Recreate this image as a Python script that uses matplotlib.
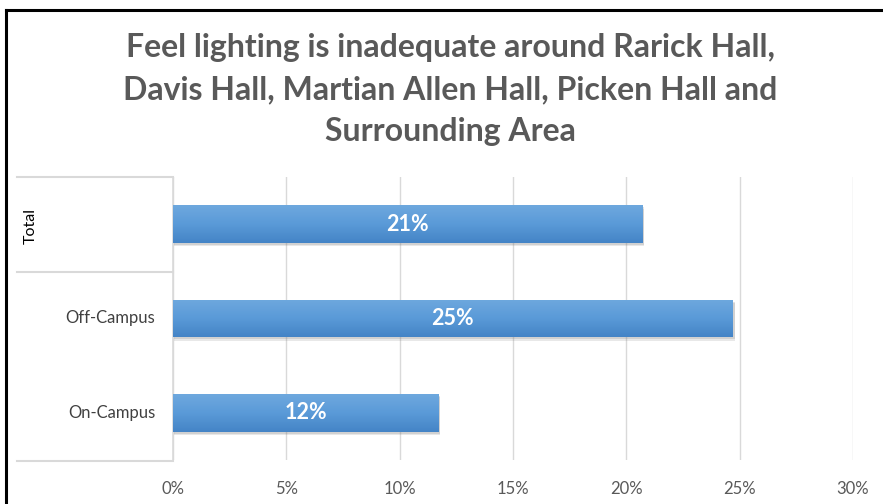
import matplotlib
matplotlib.use("Agg")
import matplotlib.pyplot as plt
import numpy as np
from matplotlib.colors import LinearSegmentedColormap
from matplotlib.lines import Line2D
from matplotlib.patches import Rectangle

title_lines = ["Feel lighting is inadequate around Rarick Hall,",
               "Davis Hall, Martian Allen Hall, Picken Hall and",
               "Surrounding Area"]
categories = ["Total", "Off-Campus", "On-Campus"]
values = [0.207, 0.247, 0.117]
x_ticks = [0, 0.05, 0.10, 0.15, 0.20, 0.25, 0.30]

W, H = 883, 504
fig = plt.figure(figsize=(W / 100, H / 100), dpi=100)
fig.patch.set_facecolor("white")

text_gray = "#595959"
grid_gray = "#d9d9d9"
font = "Lato"

# outer frame (top and left edges)
fig.add_artist(Line2D([6 / W, 6 / W], [0, 1 - 10 / H], color="black", lw=2.2,
                      transform=fig.transFigure))
fig.add_artist(Line2D([6 / W, 1], [1 - 10 / H, 1 - 10 / H], color="black", lw=2.2,
                      transform=fig.transFigure))

left, right, top, bottom = 173, 853, 177, 460
ax = fig.add_axes([left / W, 1 - bottom / H, (right - left) / W, (bottom - top) / H])

n = len(categories)
ypos = np.arange(n)[::-1]
bar_h = 0.4

cmap = LinearSegmentedColormap.from_list("bar", ["#4484c6", "#5a9ad8", "#6ea8de"])
grad = np.linspace(0, 1, 100).reshape(-1, 1)

for y, v in zip(ypos, values):
    # soft shadow below the bar
    for k, a in ((0.035, 0.18), (0.022, 0.22)):
        ax.add_patch(Rectangle((0.0006, y - bar_h / 2 - k), v + 0.0004, bar_h,
                               facecolor="#808080", alpha=a, lw=0, zorder=2))
    bar = ax.barh(y, v, height=bar_h, color="none", lw=0, zorder=3)[0]
    im = ax.imshow(grad, cmap=cmap, aspect="auto", origin="lower",
                   extent=[0, v, y - bar_h / 2, y + bar_h / 2], zorder=3)
    im.set_clip_path(bar)
    ax.text(v / 2, y, f"{round(v * 100):.0f}%", ha="center", va="center",
            color="white", fontsize=15.5, fontweight="bold", family=font, zorder=4)

ax.set_xlim(0, 0.30)
ax.set_ylim(-0.5, n - 0.5)
ax.set_xticks(x_ticks)
ax.set_xticklabels([f"{round(t * 100)}%" for t in x_ticks], color=text_gray,
                   fontsize=12, family=font)
ax.tick_params(axis="x", length=0, pad=15)
ax.set_yticks([])
ax.grid(axis="x", color=grid_gray, lw=1)
ax.set_axisbelow(True)
for s in ["top", "right", "bottom"]:
    ax.spines[s].set_visible(False)
ax.spines["left"].set_color(grid_gray)
ax.spines["left"].set_linewidth(1.2)

# two-level category labels on the left
sep_x0 = 17 / W
for ypix in (top, 272, bottom + 1):
    fig.add_artist(Line2D([sep_x0, left / W], [1 - ypix / H, 1 - ypix / H],
                          color=grid_gray, lw=1.5, transform=fig.transFigure))

fig.text(31 / W, 1 - 226 / H, categories[0], rotation=90, ha="center", va="center",
         color="black", fontsize=11.5, family=font)
for y, c in zip(ypos[1:], categories[1:]):
    ax.text(-0.0078, y, c, ha="right", va="center", color="#404040", fontsize=12,
            family=font, transform=ax.transData, clip_on=False)

for ypix, line in zip((48, 90, 131), title_lines):
    fig.text(450 / W, 1 - ypix / H, line, ha="center", va="center", color=text_gray,
             fontsize=23, fontweight="bold", family=font)

fig.savefig("out.png", dpi=100)
